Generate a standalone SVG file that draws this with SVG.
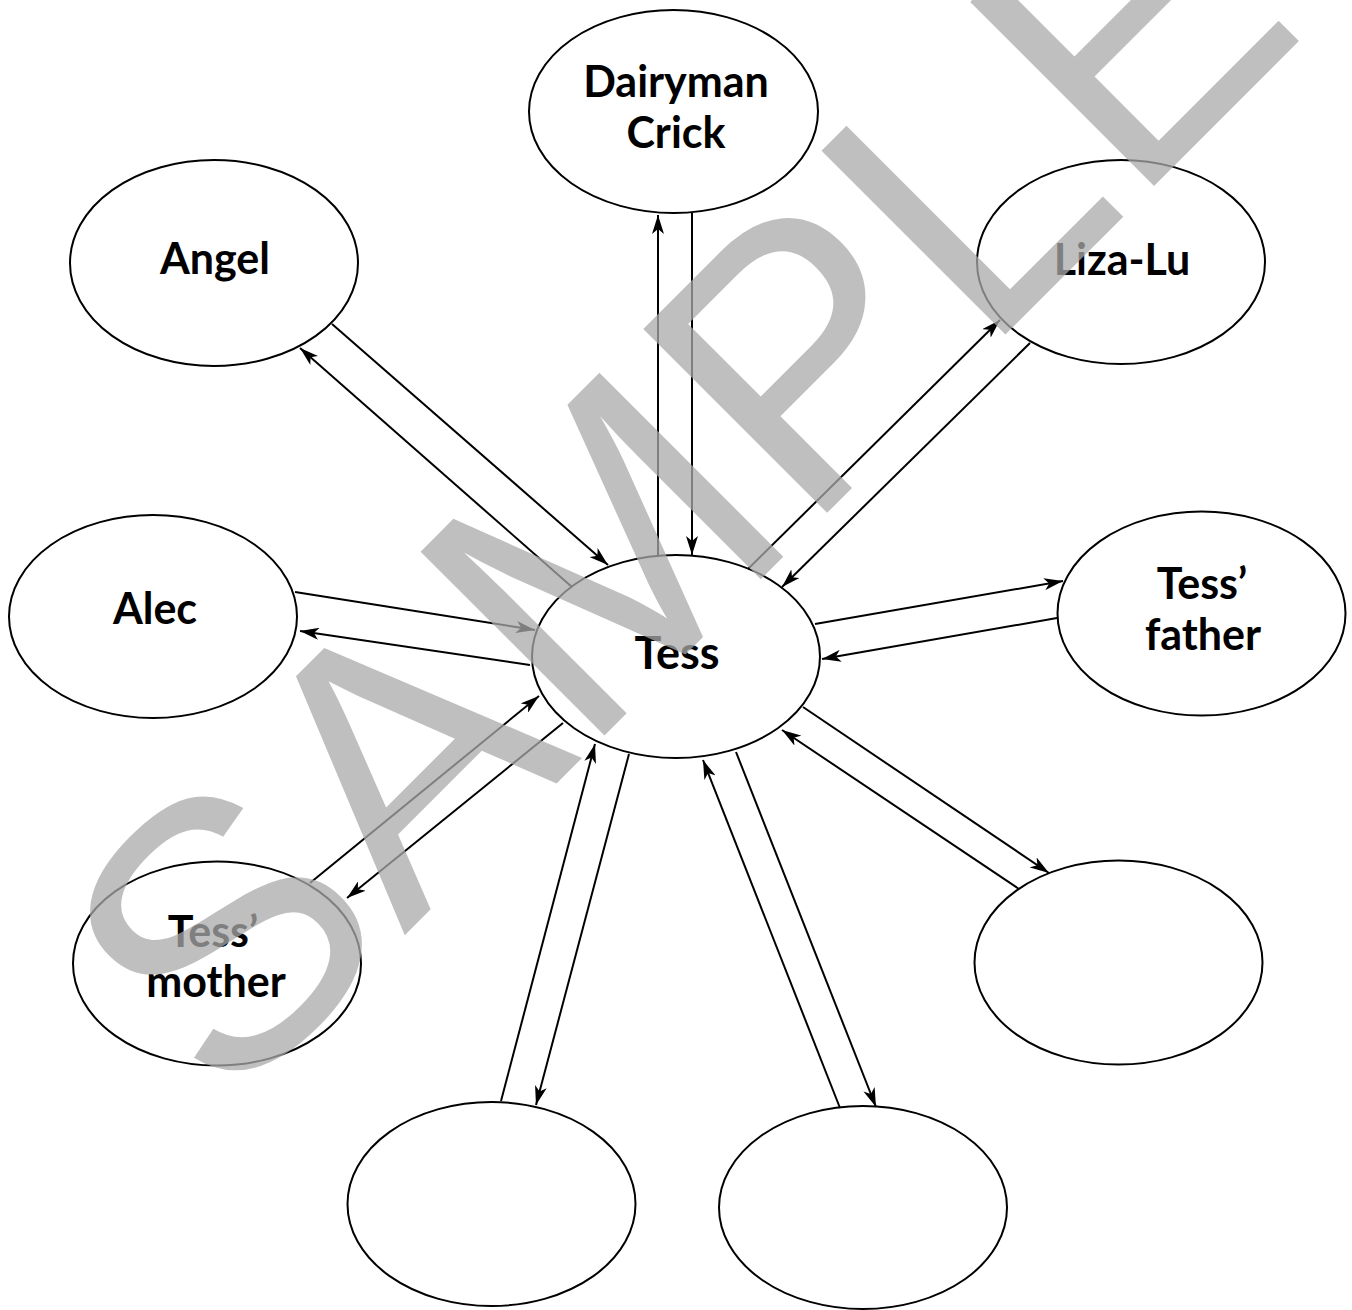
<svg xmlns="http://www.w3.org/2000/svg" width="1352" height="1310" viewBox="0 0 1352 1310">
<style>
.node ellipse{fill:#fff;stroke:#000;stroke-width:2}
.node text{font-family:Lato,"Open Sans","Liberation Sans",sans-serif;font-weight:bold;font-size:43px;text-anchor:middle;fill:#000}
.conn path{fill:none;stroke:#000;stroke-width:2;marker-end:url(#ah)}
.wm{font-family:"Liberation Sans",Arial,sans-serif;font-size:378px;fill:#aaa;fill-opacity:0.75}
</style>
<defs>
<marker id="ah" markerUnits="userSpaceOnUse" markerWidth="19" markerHeight="12" refX="19" refY="6" orient="auto" viewBox="0 0 19 12">
<path d="M0,0 L19,6 L0,12 L5,6 z" fill="#000"/>
</marker>
</defs>
<rect width="1352" height="1310" fill="#fff"/>
<g id="n-dairyman" class="node"><ellipse cx="673.5" cy="111.5" rx="144.5" ry="101.5"/><text x="676" y="97">Dairyman</text><text x="676" y="148">Crick</text></g>
<g id="n-angel" class="node"><ellipse cx="214" cy="263" rx="144" ry="103"/><text x="215" y="274">Angel</text></g>
<g id="n-lizalu" class="node"><ellipse cx="1121" cy="262" rx="144" ry="102"/><text x="1122" y="275">Liza-Lu</text></g>
<g id="n-alec" class="node"><ellipse cx="153" cy="616.5" rx="144" ry="101.5"/><text x="155" y="624">Alec</text></g>
<g id="n-tess" class="node"><ellipse cx="676" cy="656.5" rx="144" ry="101.5"/><text x="677" y="669" style="font-size:45px">Tess</text></g>
<g id="n-father" class="node"><ellipse cx="1201.5" cy="613.5" rx="144" ry="102"/><text x="1202" y="599">Tess’</text><text x="1203" y="650">father</text></g>
<g id="n-mother" class="node"><ellipse cx="217" cy="963.5" rx="144" ry="102"/><text x="213" y="947">Tess’</text><text x="216" y="997">mother</text></g>
<g id="n-empty1" class="node"><ellipse cx="1118.5" cy="962.5" rx="144" ry="102"/></g>
<g id="n-empty2" class="node"><ellipse cx="491.5" cy="1204" rx="144" ry="102"/></g>
<g id="n-empty3" class="node"><ellipse cx="863" cy="1207.5" rx="144" ry="101.5"/></g>
<g id="connectors" class="conn">
<path d="M658,555 L658,215"/>
<path d="M692,213 L692,555"/>
<path d="M332,324 L608,565"/>
<path d="M572,587 L300,348"/>
<path d="M748,569 L1000,320"/>
<path d="M1030,343 L782,587"/>
<path d="M295,592 L535,630"/>
<path d="M530,665 L300,631"/>
<path d="M815,624 L1063,581"/>
<path d="M1057,618 L822,659"/>
<path d="M310,883 L539,696"/>
<path d="M563,723 L347,898"/>
<path d="M501,1101 L595,744"/>
<path d="M629,754 L536,1105"/>
<path d="M840,1108 L703,760"/>
<path d="M736,752 L876,1107"/>
<path d="M803,707 L1049,873"/>
<path d="M1019,889 L782,730"/>
</g>
<text class="wm" x="226" y="1114" transform="rotate(-45 226 1114)">SAMPLE</text>
</svg>
